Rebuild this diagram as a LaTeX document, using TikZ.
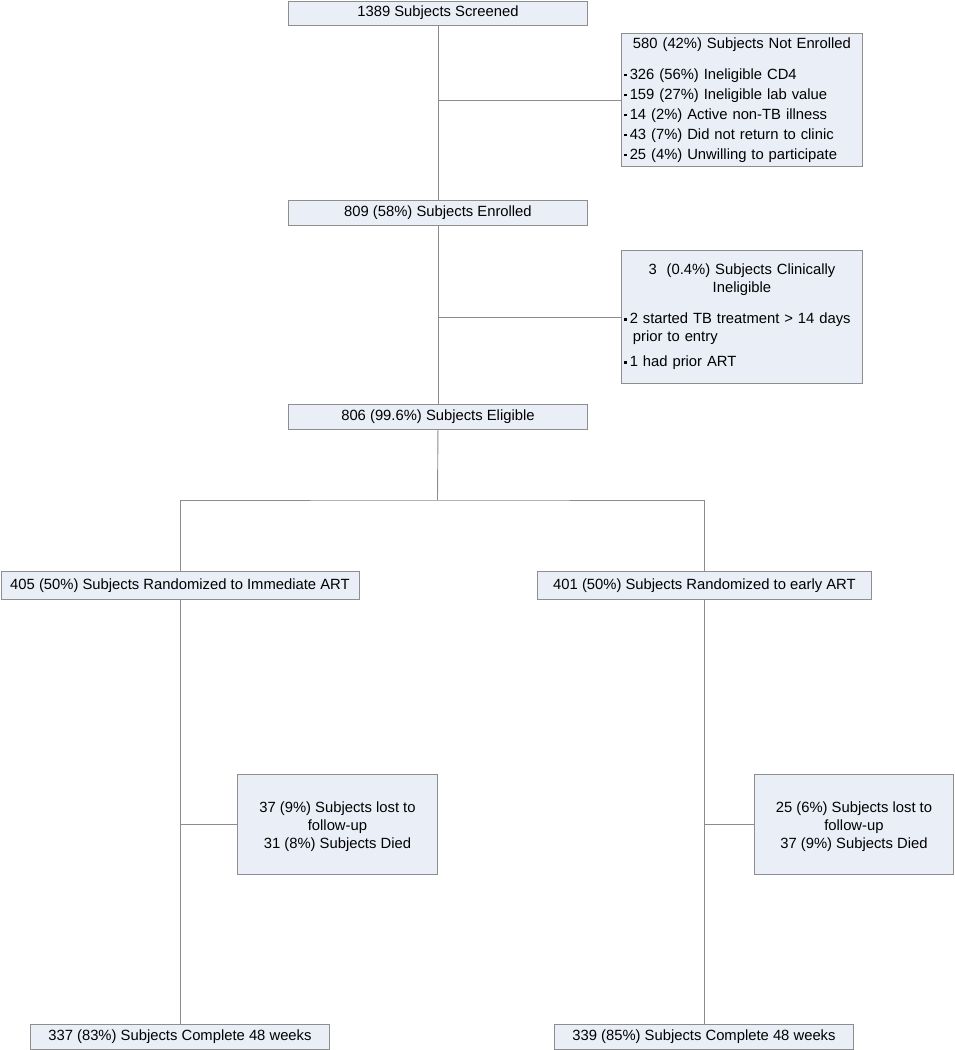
\documentclass[tikz,border=0pt]{standalone}
\usepackage{fontspec}
\setmainfont{Liberation Sans}
\definecolor{boxfill}{HTML}{E9EEF7}
\definecolor{boxline}{HTML}{8E8E8E}
\definecolor{conn}{HTML}{8C8C8C}
\newcommand\bul{\raisebox{2.8pt}{\rule{2.6pt}{2.6pt}}\hspace{3.2pt}}
\begin{document}
\begin{tikzpicture}[x=1pt,y=-1pt,
  box/.style={draw=boxline, fill=boxfill, line width=0.9pt, anchor=north west, inner sep=0pt, align=center,
    font=\fontsize{14.8}{18}\selectfont},
  conline/.style={draw=conn, line width=0.9pt}]
\useasboundingbox (0,0) rectangle (954,1050);
% main column
\node[box, minimum width=299pt, minimum height=24pt] (screened) at (288,0.5) {1389 Subjects Screened};
\node[box, minimum width=241pt, minimum height=133pt, text width=236pt, inner xsep=2.5pt, align=left,
  font=\fontsize{14.8}{20}\selectfont] (notenr) at (621,33)
  {\centering 580 (42\%) Subjects Not Enrolled\par\vspace{11pt}\raggedright
   \bul 326 (56\%) Ineligible CD4\par
   \bul 159 (27\%) Ineligible lab value\par
   \bul 14 (2\%) Active non-TB illness\par
   \bul 43 (7\%) Did not return to clinic\par
   \bul 25 (4\%) Unwilling to participate\par};
\node[box, minimum width=299pt, minimum height=25pt] (enrolled) at (288,200) {809 (58\%) Subjects Enrolled};
\node[box, minimum width=241pt, minimum height=133pt, text width=236pt, inner xsep=2.5pt, align=left] (inelig) at (621,250)
  {\centering 3\ \ (0.4\%) Subjects Clinically\\Ineligible\par\vspace{13pt}\raggedright
   \bul 2 started TB treatment > 14 days\\\hspace*{9pt}prior to entry\par\vspace{7pt}
   \bul 1 had prior ART\par};
\node[box, minimum width=299pt, minimum height=25pt] (eligible) at (288,404) {806 (99.6\%) Subjects Eligible};
% arms
\node[box, minimum width=358pt, minimum height=28pt] (immed) at (0.5,571) {405 (50\%) Subjects Randomized to Immediate ART};
\node[box, minimum width=334pt, minimum height=28pt] (early) at (537,571) {401 (50\%) Subjects Randomized to early ART};
\node[box, minimum width=200pt, minimum height=100pt, text depth=2pt] (lostL) at (237,774)
  {\vphantom{X}\\[-14pt]37 (9\%) Subjects lost to\\follow-up\\31 (8\%) Subjects Died};
\node[box, minimum width=199pt, minimum height=100pt, text depth=2pt] (lostR) at (754,774)
  {\vphantom{X}\\[-14pt]25 (6\%) Subjects lost to\\follow-up\\37 (9\%) Subjects Died};
\node[box, minimum width=299pt, minimum height=25pt] (compL) at (30,1024) {337 (83\%) Subjects Complete 48 weeks};
\node[box, minimum width=299pt, minimum height=25pt] (compR) at (554,1024) {339 (85\%) Subjects Complete 48 weeks};
\coordinate (split) at (437.5,500);
% connectors
\draw[conline] (screened.south) -- (enrolled.north);
\draw[conline] (notenr.west) -- (notenr.west -| screened.south);
\draw[conline] (enrolled.south) -- (eligible.north);
\draw[conline] (inelig.west) -- (inelig.west -| enrolled.south);
\draw[conline] (eligible.south) -- (split);
\draw[conline] (immed.north) |- (split) -| (early.north);
\draw[conline] (immed.south) -- (immed.south |- compL.north);
\draw[conline] (lostL.west) -- (lostL.west -| immed.south);
\draw[conline] (early.south) -- (early.south |- compR.north);
\draw[conline] (lostR.west) -- (lostR.west -| early.south);
\end{tikzpicture}
\end{document}
